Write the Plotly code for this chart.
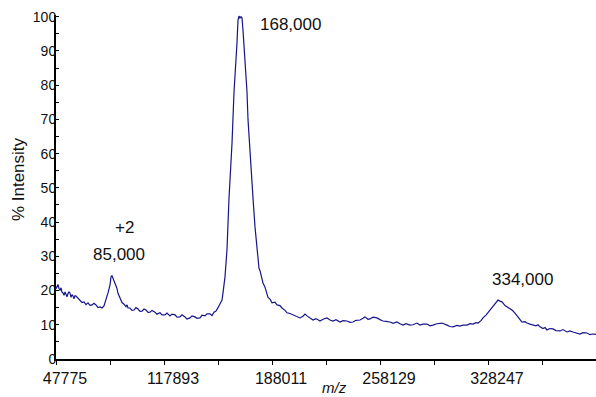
import plotly.graph_objects as go

# m/z values (Da) and % intensity
mz = [47775, 48424, 49073, 49723, 50372, 51021, 51670, 52320, 52969, 53618,
      54267, 54917, 55566, 56215, 56864, 57514, 58163, 58812, 59461, 60111,
      60760, 62058, 63357, 64655, 65954, 67252, 68551, 69849, 71148, 72446,
      73745, 75043, 76342, 77640, 78939, 80237, 81535, 82834, 83483, 84132,
      84782, 85431, 86080, 86729, 87379, 88028, 88677, 89326, 89976, 90625,
      91923, 93222, 93871, 94520, 95819, 97117, 98416, 99714, 101013, 102311,
      103610, 104908, 106207, 107505, 108804, 110102, 112050, 113348, 115296, 116594,
      118542, 119841, 121788, 123087, 125035, 126333, 128281, 129579, 131527, 132825,
      134773, 136072, 138019, 139318, 141266, 142564, 144512, 145810, 147758, 149056,
      150355, 151653, 152952, 154250, 155549, 156198, 157497, 158795, 160094, 162041,
      163340, 165287, 165937, 166586, 167235, 167884, 168534, 169183, 170481, 171780,
      172429, 174377, 175675, 176974, 178272, 179571, 180220, 181518, 182168, 183466,
      184765, 185414, 186712, 188011, 189959, 191257, 193205, 194503, 196451, 197749,
      199697, 201645, 203593, 206190, 208137, 209436, 210734, 212682, 214630, 216577,
      219174, 221122, 222421, 223719, 225667, 227614, 229562, 232159, 234107, 236704,
      238652, 240600, 242547, 245144, 247092, 248390, 250338, 251636, 253584, 256181,
      258129, 260076, 262024, 264621, 266569, 269166, 271114, 273061, 275009, 277606,
      279554, 282151, 284098, 286046, 288643, 290591, 292538, 295135, 298382, 300329,
      301628, 303576, 305523, 308120, 310068, 312016, 314613, 316560, 318508, 320456,
      321754, 323702, 325000, 326948, 328247, 330194, 331493, 333441, 334739, 336038,
      337336, 339284, 340582, 342530, 343828, 345776, 347075, 349022, 350321, 352269,
      353567, 355515, 357462, 359410, 360709, 362007, 363955, 365253, 366552, 368500,
      370447, 372395, 374992, 376940, 379537, 381484, 383432, 385380, 387977, 389924,
      392521, 394469, 396417, 398365]

intensity = [20.5, 21.2, 21.8, 20.6, 20.0, 20.8, 19.5, 19.3, 18.6, 19.6,
             19.0, 18.2, 19.1, 19.6, 19.3, 18.0, 18.8, 18.4, 17.6, 18.5,
             18.4, 17.8, 17.2, 16.5, 16.7, 15.9, 16.4, 15.7, 15.8, 16.3,
             15.8, 15.0, 15.2, 14.9, 15.5, 17.2, 19.3, 21.6, 24.0, 24.3,
             23.6, 23.2, 22.3, 21.4, 20.6, 19.2, 18.4, 17.6, 17.2, 16.5,
             16.0, 15.3, 15.8, 14.9, 14.9, 14.2, 14.3, 15.0, 14.6, 13.9,
             14.0, 14.6, 14.3, 13.6, 13.7, 14.2, 13.7, 13.1, 13.5, 12.9,
             12.9, 13.4, 12.6, 13.1, 12.9, 12.2, 12.3, 12.9, 12.3, 11.7,
             12.0, 12.6, 12.3, 11.9, 12.0, 12.8, 12.6, 13.2, 13.2, 12.7,
             13.7, 14.0, 15.0, 16.0, 17.2, 19.3, 24.0, 32.0, 47.0, 63.0,
             78.0, 92.4, 99.0, 100.2, 99.6, 100.0, 99.7, 96.0, 87.0, 78.0,
             70.0, 58.0, 47.0, 38.6, 32.0, 26.5, 25.8, 23.0, 22.2, 21.0,
             19.3, 18.0, 17.5, 16.4, 16.6, 15.8, 15.6, 14.9, 14.2, 13.5,
             13.3, 12.9, 12.5, 12.0, 12.5, 13.1, 12.6, 11.9, 11.4, 11.8,
             11.1, 11.6, 11.9, 12.0, 11.4, 11.1, 11.5, 10.8, 11.2, 11.1,
             10.7, 10.8, 11.3, 11.4, 11.9, 12.3, 11.6, 11.7, 12.2, 12.0,
             11.5, 11.1, 11.0, 10.8, 10.4, 10.8, 10.3, 9.9, 10.3, 9.9,
             10.0, 10.5, 9.9, 10.2, 10.2, 9.7, 9.9, 10.3, 10.5, 10.0,
             9.9, 9.5, 9.4, 9.8, 9.6, 9.9, 9.9, 10.3, 10.2, 10.6,
             10.5, 11.2, 12.0, 12.8, 13.5, 14.5, 15.2, 16.5, 17.2, 16.9,
             16.7, 15.6, 15.2, 14.6, 14.3, 13.4, 12.6, 11.6, 10.8, 10.9,
             10.5, 10.2, 9.9, 9.7, 10.0, 9.4, 8.9, 9.2, 8.5, 8.9,
             8.8, 8.3, 8.2, 8.6, 7.9, 8.2, 7.9, 7.6, 7.3, 7.7,
             7.6, 7.1, 7.3, 7.2]

x_tick_vals = [47775, 117893, 188011, 258129, 328247]
x_tick_text = ["47775", "117893", "188011", "258129", "328247"]
x_range = [47775, 398365]
y_tick_vals = [0, 10, 20, 30, 40, 50, 60, 70, 80, 90, 100]

# peak labels: (text, m/z, intensity position)
label_text = ["+2", "85,000", "168,000", "334,000"]
label_mz = [92248, 88677, 200022, 350645]
label_y = [38.3, 30.4, 97.7, 23.2]

FONT = "Liberation Sans, Arial, Helvetica, sans-serif"

fig = go.Figure()
fig.add_trace(go.Scatter(x=mz, y=intensity, mode="lines",
                         line=dict(color="#16168a", width=1.2),
                         hoverinfo="skip", showlegend=False, cliponaxis=False))

for t, xv, yv in zip(label_text, label_mz, label_y):
    fig.add_annotation(x=xv, y=yv, xref="x", yref="y", text=t, showarrow=False,
                       xanchor="center", yanchor="middle",
                       font=dict(family=FONT, size=17, color="#111111"))

fig.add_annotation(x=-0.0704, y=0.523, xref="paper", yref="paper",
                   text="% Intensity", textangle=-90, showarrow=False,
                   xanchor="center", yanchor="middle",
                   font=dict(family=FONT, size=17, color="#111111"))
fig.add_annotation(x=228264, y=-0.084, xref="x", yref="paper",
                   text="<i>m/z</i>", showarrow=False,
                   xanchor="center", yanchor="middle",
                   font=dict(family=FONT, size=15, color="#111111"))

fig.update_layout(
    width=596, height=397,
    margin=dict(l=56, r=0, t=15, b=38, autoexpand=False),
    paper_bgcolor="white", plot_bgcolor="white",
    font=dict(family=FONT, color="#111111"),
    xaxis=dict(range=x_range, tickmode="array", tickvals=x_tick_vals,
               ticktext=x_tick_text, ticks="outside", ticklen=4, tickwidth=1,
               tickcolor="black", showline=True, linecolor="black", linewidth=2,
               showgrid=False, zeroline=False, ticklabelshift=9, automargin=False,
               tickfont=dict(family=FONT, size=16, color="#111111"),
               minor=dict(tickmode="linear", tick0=47775, dtick=35059,
                          ticks="outside", ticklen=4, tickcolor="black", showgrid=False)),
    yaxis=dict(range=[0, 100.5], tickmode="array", tickvals=y_tick_vals,
               ticks="inside", ticklen=3, tickwidth=1, tickcolor="black",
               showline=True, linecolor="black", linewidth=2,
               showgrid=False, zeroline=False, automargin=False,
               ticklabelstandoff=-5,
               tickfont=dict(family=FONT, size=14, color="#111111"),
               minor=dict(tickmode="linear", tick0=0, dtick=5, ticks="inside",
                          ticklen=3, tickcolor="black", showgrid=False)),
)

fig.write_html("out.html", config={"displayModeBar": False},
               post_script="document.body.style.margin='0';document.body.style.padding='0';"
                           "document.body.style.overflow='hidden';")
